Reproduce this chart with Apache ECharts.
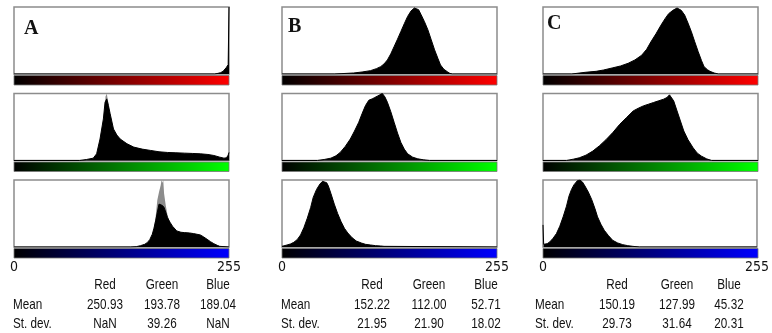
<!DOCTYPE html>
<html>
<head>
<meta charset="utf-8">
<script src="https://cdn.jsdelivr.net/npm/echarts@6/dist/echarts.min.js"></script>
<style>
    html, body { margin: 0; padding: 0; background: #fff; }
    #main { width: 772px; height: 333px; }
</style>
</head>
<body>
<div id="main"></div>
<script>
// histogram outlines, [intensity, relative count]
var histARed = [[0,0],[238,0],[242,1],[245,2],[248,4],[250,6],[252,10],[254,14],[254.6,16],[255,100]];
var histAGreen = [[0,0],[78,0],[86,1.5],[94,3.5],[98,10],[102,32],[106,62],[108,87],[110,92],[112,82],[114,70],[118,47],[122,38],[126,32],[134,25],[142,20],[152,17],[162,15],[172,13],[182,12],[192,11.5],[202,11],[212,10.5],[221,10],[230,9],[237,7.5],[244,5],[249,3.5],[252,4],[254,8],[255,12]];
var histAGreenGrey = [[106,0],[107,60],[108.5,95],[110,100],[111,100],[112,85],[113,70],[114,0]];
var histABlue = [[0,0],[138,0],[145,0.5],[150,2],[155,4],[158,6.5],[161,11],[164,19],[166,28],[168,39],[170,52],[172,64],[174,66],[176,62],[178,59],[180,52],[182,44],[185,37],[188,31],[193,24],[198,22],[202,21.5],[208,21],[213,20],[217,19],[221,18],[225,15],[229,11.5],[233,8],[237,5],[241,2.5],[244,1],[246,0],[255,0]];
var histABlueGrey = [[164,0],[166,30],[168,45],[170,70],[172,82],[174,92],[175,100],[176,96],[177,100],[178,80],[180,62],[182,48],[184,40],[186,0]];

var histBRed = [[0,0],[62,0],[70,0.5],[85,1.5],[95,3],[105,5],[112,8],[117,11],[121,15],[125,21],[129,30],[133,41],[137,52],[141,63.5],[145,75],[149,86],[153,94],[157,98.5],[159,100],[162,96],[165,88.5],[169,78],[173,66],[177,51],[181,36],[185,23],[188,13.5],[192,7],[196,3.5],[199,1],[202,0],[255,0]];
var histBGreen = [[0,0],[42,0],[50,1.5],[58,3.5],[64,7],[69,12],[75,21],[81,32],[86,44],[91,57],[95,70],[99,82],[103,90],[107,92],[110,94],[113,96],[116,98],[119,100],[122,95],[125,87],[129,73],[133,57],[137,41],[141,27],[145,17],[149,10],[155,5],[161,2.5],[168,1],[175,0],[255,0]];
var histBBlue = [[0,1],[6,3],[10,4.5],[14,7],[18,11],[22,18],[26,29],[30,43],[34,59],[37,74],[41,86],[45,94],[48,98],[50,100],[53,96],[55,91],[58,80],[62,64],[66,50],[70,38],[74,28],[78,21],[83,14],[88,9],[94,6],[99,4],[105,3],[111,2],[117,1.5],[121,1],[123,0],[255,0]];

var histCRed = [[0,0],[34,0],[36,1],[50,2.5],[63,4],[72,6],[82,9],[92,12],[101,16],[109,21],[117,28],[123,37],[128,48],[134,60],[140,73],[145,83],[149,90],[154,95],[159,98.5],[161,100],[164,95],[168,88],[172,76],[176,63],[180,48],[184,33.5],[188,20],[191,11],[195,6.5],[198,4],[203,1.5],[208,0],[255,0]];
var histCGreen = [[0,0],[28,0],[30,0.5],[36,2],[43,4],[51,8],[59,14],[67,22],[75,31.5],[83,42],[91,54],[99,64],[107,74],[113,78],[119,81.5],[125,84],[131,86.5],[137,89],[143,91.5],[147,94],[150,98],[152,100],[155,89],[159,74],[163,59],[167,44],[172,31],[178,19],[183,11],[188,6.5],[194,2.5],[200,0],[255,0]];
var histCBlue = [[0,33],[0.8,4],[2,3.5],[5,5],[8,7.5],[12,13],[16,20],[20,31],[24,45],[28,61],[31,76],[34,86],[37,93],[41,99],[44,100],[47,97],[50,91],[54,82],[58,71],[62,57],[65,45],[69,34],[73,25],[78,17],[83,10],[89,6],[95,3.5],[101,2],[107,1],[115,0],[255,0]];

// table
var statCols = ['Red', 'Green', 'Blue'];
var statRows = ['Mean', 'St. dev.'];
var meanA = ['250.93', '193.78', '189.04'];
var sdA = ['NaN', '39.26', 'NaN'];
var meanB = ['152.22', '112.00', '52.71'];
var sdB = ['21.95', '21.90', '18.02'];
var meanC = ['150.19', '127.99', '45.32'];
var sdC = ['29.73', '31.64', '20.31'];
var axisTicks = [0, 255];

var narrow = "'Liberation Sans Narrow', 'DejaVu Sans Condensed', sans-serif";

var panels = [
    { name: 'A', left: 14, hist: [histARed, histAGreen, histABlue], grey: [null, histAGreenGrey, histABlueGrey],
      mean: meanA, sd: sdA, tag: [24, 28.5], rowLeft: 13, cols: [105, 162, 218] },
    { name: 'B', left: 282, hist: [histBRed, histBGreen, histBBlue], grey: [null, null, null],
      mean: meanB, sd: sdB, tag: [288, 26.5], rowLeft: 281, cols: [372, 429, 486] },
    { name: 'C', left: 543, hist: [histCRed, histCGreen, histCBlue], grey: [null, null, null],
      mean: meanC, sd: sdC, tag: [547, 24], rowLeft: 535, cols: [617, 677, 729] }
];
var boxW = 215, boxH = 67;
var rowTops = [7, 93.5, 180];
var stripColors = ['#ff0000', '#00ff00', '#0000ff'];

var grids = [], xAxes = [], yAxes = [], series = [], graphics = [];

// condensed look: regular sans squeezed horizontally
function cellText(str, x, y, align) {
    return {
        type: 'text', silent: true, x: x, y: y, scaleX: 0.78,
        style: { text: str, x: 0, y: 0, textAlign: align, textVerticalAlign: 'middle',
                 font: '15px "Liberation Sans", Arimo, sans-serif', fill: '#111' }
    };
}

panels.forEach(function (p) {
    for (var r = 0; r < 3; r++) {
        var idx = grids.length;
        var last = r === 2;
        grids.push({
            left: p.left, top: rowTops[r], width: boxW, height: boxH,
            show: true, backgroundColor: '#fff', borderColor: '#8c8c8c', borderWidth: 1.5
        });
        xAxes.push({
            gridIndex: idx, type: 'value', min: axisTicks[0], max: axisTicks[1], interval: axisTicks[1],
            show: last,
            axisLine: { show: false }, axisTick: { show: false }, splitLine: { show: false },
            axisLabel: { margin: 13, fontSize: 14, fontFamily: narrow, color: '#111', showMinLabel: true, showMaxLabel: true }
        });
        yAxes.push({ gridIndex: idx, type: 'value', min: 0, max: 100, show: false, splitLine: { show: false } });

        // grey overlay peaks sit behind the black histogram
        if (p.grey[r]) {
            series.push({
                type: 'line', z: 1, xAxisIndex: idx, yAxisIndex: idx, data: p.grey[r],
                symbol: 'none', lineStyle: { width: 0 },
                areaStyle: { color: '#8c8c8c', opacity: 1 }
            });
        }
        series.push({
            type: 'line', z: 3, xAxisIndex: idx, yAxisIndex: idx, data: p.hist[r],
            symbol: 'none', lineStyle: { color: '#000', width: 1 },
            areaStyle: { color: '#000', opacity: 1 }
        });

        // colour strip under each box
        graphics.push({
            type: 'rect', silent: true,
            shape: { x: p.left, y: rowTops[r] + boxH + 1.5, width: boxW, height: 9.5 },
            style: {
                fill: new echarts.graphic.LinearGradient(0, 0, 1, 0, [
                    { offset: 0, color: '#000' },
                    { offset: 1, color: stripColors[r] }
                ]),
                stroke: '#777', lineWidth: 0.8
            }
        });
    }

    graphics.push({
        type: 'text', silent: true, z: 10,
        style: { text: p.name, x: p.tag[0], y: p.tag[1], textVerticalAlign: 'middle',
                 font: 'bold 20px "Liberation Serif", "DejaVu Serif", serif', fill: '#111' }
    });

    statCols.forEach(function (c, i) {
        graphics.push(cellText(c, p.cols[i], 285, 'center'));
        graphics.push(cellText(p.mean[i], p.cols[i], 305, 'center'));
        graphics.push(cellText(p.sd[i], p.cols[i], 324, 'center'));
    });
    statRows.forEach(function (s, i) {
        graphics.push(cellText(s, p.rowLeft, i === 0 ? 305 : 324, 'left'));
    });
});

var myChart = echarts.init(document.getElementById('main'), null, { renderer: 'canvas' });
var option = {
    animation: false,
    backgroundColor: '#fff',
    grid: grids,
    xAxis: xAxes,
    yAxis: yAxes,
    series: series,
    graphic: graphics
};
option && myChart.setOption(option);
</script>
</body>
</html>
